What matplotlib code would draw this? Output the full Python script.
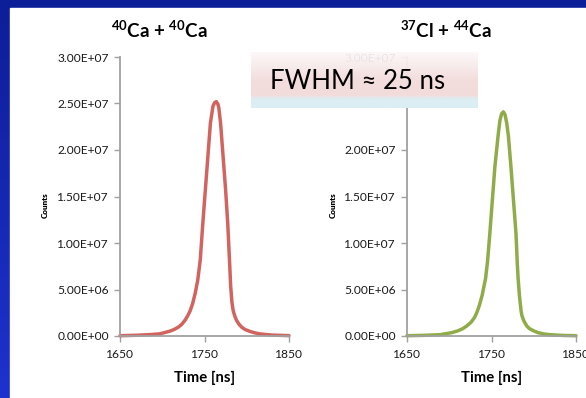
import numpy as np
import matplotlib
matplotlib.use('Agg')
import matplotlib.pyplot as plt
from matplotlib.patches import Rectangle
from matplotlib.ticker import FuncFormatter

plt.rcParams['font.family'] = ['Lato', 'DejaVu Sans']
plt.rcParams['mathtext.fontset'] = 'custom'
plt.rcParams['mathtext.rm'] = 'Lato:bold'
plt.rcParams['mathtext.default'] = 'rm'

# 40Ca + 40Ca  (time in ns, counts in millions)
time_ca = [1650, 1670, 1685, 1697, 1709, 1714, 1719, 1723, 1727, 1730, 1733, 1736,
           1739, 1742, 1745, 1748, 1751, 1754, 1757, 1760, 1762, 1764, 1766, 1767,
           1769, 1772, 1775, 1777.5, 1779.5, 1781, 1782.5, 1784, 1786, 1788, 1791,
           1794, 1798, 1803, 1809, 1815, 1830, 1850]
counts_ca = [0.03, 0.08, 0.15, 0.23, 0.52, 0.7, 0.95, 1.25, 1.7, 2.15, 2.7, 3.5,
             4.6, 6.0, 8.2, 12.1, 15.7, 19.3, 22.9, 24.7, 25.1, 25.2, 24.9, 24.5,
             22.9, 19.3, 15.7, 12.1, 8.3, 5.3, 3.6, 2.7, 2.1, 1.67, 1.25,
             0.95, 0.7, 0.52, 0.35, 0.23, 0.1, 0.04]

# 37Cl + 44Ca
time_cl = [1650, 1670, 1689, 1703, 1710, 1716, 1721, 1726, 1730, 1733, 1736, 1739,
           1743, 1745.3, 1748, 1751, 1754, 1758, 1760, 1762, 1764, 1766, 1768, 1770,
           1773, 1776, 1779, 1780.5, 1781.5, 1783, 1785, 1786, 1787.5, 1789, 1792,
           1795, 1800, 1805, 1812, 1819, 1835, 1850]
counts_cl = [0.03, 0.07, 0.14, 0.36, 0.55, 0.79, 1.1, 1.5, 2.0, 2.6, 3.4, 4.4,
             6.2, 8.0, 11.0, 14.6, 18.2, 21.7, 23.2, 23.9, 24.1, 23.8, 22.9, 21.5,
             18.2, 14.6, 11.0, 7.8, 6.2, 4.4, 2.7, 2.2, 1.8, 1.5, 1.05,
             0.79, 0.55, 0.36, 0.22, 0.14, 0.06, 0.03]

titles = [r'$^{40}$Ca + $^{40}$Ca', r'$^{37}$Cl + $^{44}$Ca']
x_ticks = [1650, 1750, 1850]
y_ticks = [0, 5e6, 1e7, 1.5e7, 2e7, 2.5e7, 3e7]
fwhm_text = 'FWHM \u2248 25 ns'

W, H = 586, 398
fig = plt.figure(figsize=(W / 100, H / 100), dpi=100)
renderer = fig.canvas.get_renderer()


def fit_size(text, target_px, **kw):
    # font size that gives the text the wanted pixel width
    t = fig.text(0, 0, text, fontsize=10, **kw)
    w = t.get_window_extent(renderer).width
    t.remove()
    return 10 * target_px / w


tick_fs = fit_size('3.00E+07', 51)
title_fs = fit_size(titles[0], 97, fontweight='bold')
xlab_fs = fit_size('Time [ns]', 61, fontweight='bold')
ylab_fs = fit_size('Counts', 26, fontweight='heavy')
fwhm_fs = fit_size(fwhm_text, 174)

# blue slide background with white panel
bg = fig.add_axes([0, 0, 1, 1], zorder=-5)
top_c = np.array([12, 30, 152]) / 255
bot_c = np.array([30, 50, 206]) / 255
t = np.linspace(0, 1, 200)[:, None]
grad = top_c * (1 - t) + bot_c * t
bg.imshow(grad[:, None, :].repeat(2, axis=1), aspect='auto', extent=[0, 1, 0, 1])
bg.add_patch(Rectangle((10 / W, 0), 1, (H - 8) / H, color='white', transform=bg.transAxes))
bg.set_xlim(0, 1)
bg.set_ylim(0, 1)
bg.axis('off')

gray = '#A0A0A0'
panels = [
    (time_ca, counts_ca, '#D2645F', 120, 159, 45.5),
    (time_cl, counts_cl, '#8FAC48', 407, 446, 333),
]
for i, (tx, cy, col, x0, tcx, ylx) in enumerate(panels):
    ax = fig.add_axes([x0 / W, (H - 336) / H, 169 / W, 279 / H], zorder=1)
    ax.set_facecolor('none')
    ax.plot(tx, np.array(cy) * 1e6, color=col, lw=2.5, clip_on=False,
            solid_capstyle='round', solid_joinstyle='round')
    ax.set_xlim(1650, 1850)
    ax.set_ylim(0, 3e7)
    ax.set_xticks(x_ticks)
    ax.set_yticks(y_ticks)
    ax.yaxis.set_major_formatter(FuncFormatter(lambda v, p: '{:.2E}'.format(v)))
    for s in ['top', 'right']:
        ax.spines[s].set_visible(False)
    for s in ['left', 'bottom']:
        ax.spines[s].set_color(gray)
        ax.spines[s].set_linewidth(1.3)
    ax.tick_params(direction='out', length=4, width=1, color=gray,
                   labelsize=tick_fs, labelcolor='#1A1A1A')
    ax.tick_params(axis='x', pad=5.5)
    ax.tick_params(axis='y', pad=4)
    ax.set_xlabel('Time [ns]', fontsize=xlab_fs, fontweight='bold', labelpad=7.5)
    fig.text(tcx / W, (H - 38) / H, titles[i], fontsize=title_fs, fontweight='bold',
             ha='center', va='baseline')
    fig.text(ylx / W, (H - 205) / H, 'Counts', fontsize=ylab_fs, fontweight='heavy',
             rotation=90, ha='center', va='center')

# FWHM box with soft gradient (white at the top, pink, thin light blue band)
box = fig.add_axes([251 / W, (H - 108) / H, 227 / W, 56 / H], zorder=5)
stops = [0.0, 0.5, 0.78, 0.84, 1.0]
cols = np.array([[253, 250, 250, 235], [243, 222, 221, 252], [242, 220, 219, 255],
                 [221, 238, 243, 255], [219, 238, 243, 255]]) / 255
yy = np.linspace(0, 1, 100)
img = np.stack([np.interp(yy, stops, cols[:, k]) for k in range(4)], axis=1)
box.imshow(img[:, None, :].repeat(2, axis=1), aspect='auto', extent=[0, 1, 0, 1])
box.set_xlim(0, 1)
box.set_ylim(0, 1)
box.axis('off')
box.text(0.471, (108 - 89) / 56, fwhm_text, fontsize=fwhm_fs, ha='center', va='baseline',
         color='black', transform=box.transAxes)

fig.savefig('out.png', dpi=100)
